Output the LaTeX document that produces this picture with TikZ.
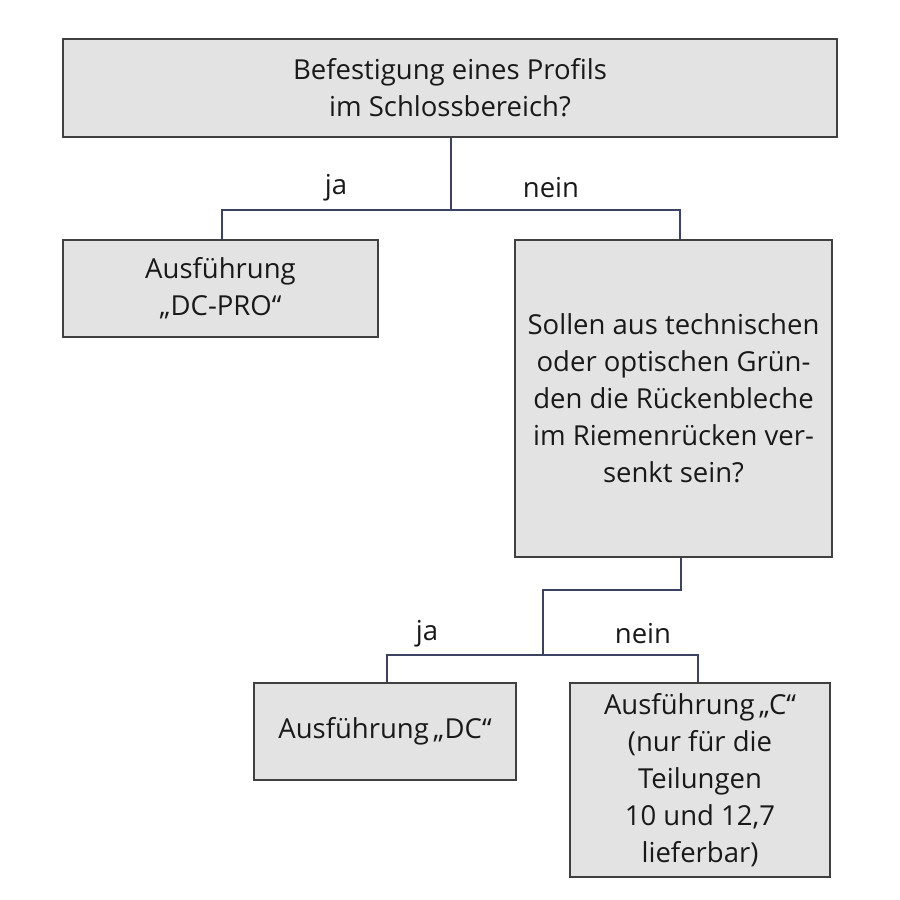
\documentclass[tikz,border=0pt]{standalone}
\usepackage{fontspec}
\setmainfont{Open Sans}
\definecolor{connc}{HTML}{3C4262}
\begin{document}
\begin{tikzpicture}[x=1pt,y=-1pt,
  box/.style={draw=black!75, line width=1.1pt, fill=black!11, align=center, inner sep=0pt,
    font=\fontsize{27.5}{37}\selectfont, text=black!90},
  conn/.style={draw=connc, line width=1.6pt},
  lab/.style={font=\fontsize{27.5}{30}\selectfont, text=black!90}]
\useasboundingbox (0,0) rectangle (900,900);
\node[box, minimum width=774pt, minimum height=98pt] (top) at (450,88) {Befestigung eines Profils\\im Schlossbereich?};
\node[box, minimum width=315pt, minimum height=97pt] (A) at (220.5,288.5) {Ausführung\\„DC-PRO“};
\node[box, minimum width=317pt, minimum height=317pt] (B) at (673.5,398.5) {Sollen aus technischen\\oder optischen Grün-\\den die Rückenbleche\\im Riemenrücken ver-\\senkt sein?};
\node[box, minimum width=262pt, minimum height=97pt] (DC) at (385,731.5) {Ausführung\,„DC“};
\node[box, minimum width=260pt, minimum height=194pt] (C) at (700,780) {Ausführung\,„C“\\(nur für die\\Teilungen\\10 und 12,7\\lieferbar)};
\coordinate (tx) at (451,0);
\coordinate (ax) at (222,0);
\coordinate (bx) at (680,0);
\coordinate (b2) at (681,0);
\coordinate (dx) at (387,0);
\coordinate (cx) at (698,0);
\coordinate (s1) at (451,210);
\coordinate (s2) at (543,590);
\coordinate (s3) at (543,655);
\draw[conn] (top.south -| tx) -- (s1) -| (A.north -| ax);
\draw[conn] (s1) -| (B.north -| bx);
\draw[conn] (B.south -| b2) |- (s2) -- (s3) -| (DC.north -| dx);
\draw[conn] (s3) -| (C.north -| cx);
\node[lab] (l1) at (336,188) {ja};
\node[lab] (l2) at (551,188) {nein};
\node[lab] (l3) at (427,634) {ja};
\node[lab] (l4) at (643,634) {nein};
\end{tikzpicture}
\end{document}
